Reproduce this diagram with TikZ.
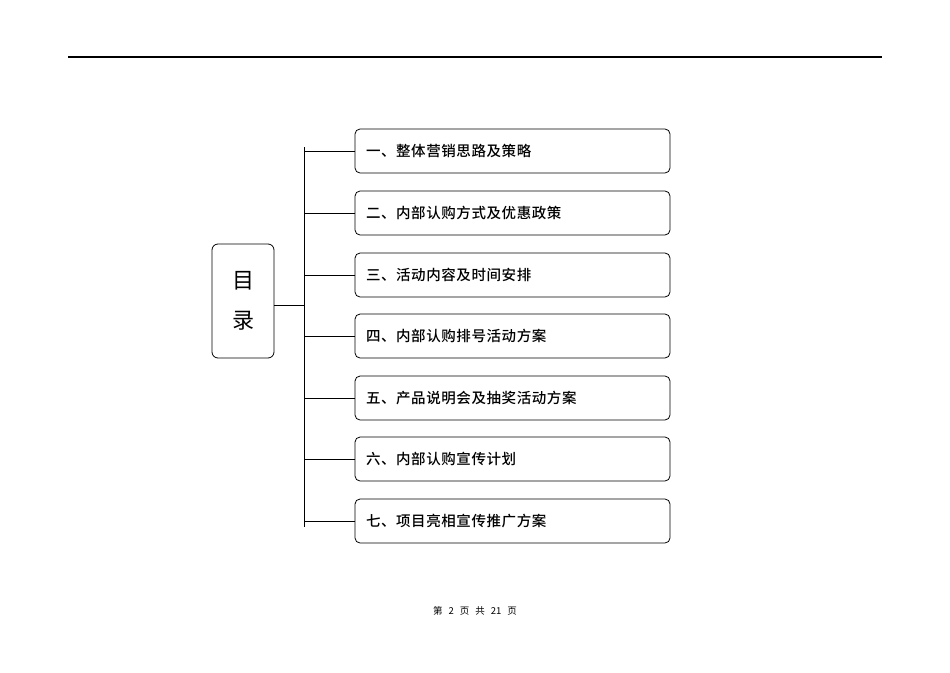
\documentclass[tikz,border=0pt]{standalone}
\usepackage{fontspec}
\newfontfamily\cjk{Noto Sans CJK SC}
\newfontfamily\cjkb[LetterSpace=4]{Noto Sans CJK SC Medium}
\tikzset{item/.style={draw,line width=0.8pt,rounded corners=5pt,minimum width=315pt,minimum height=44pt,
  text width=293pt,align=left,font=\cjkb\fontsize{14.5}{16}\selectfont},
  link/.style={line width=1pt}}
\begin{document}
\begin{tikzpicture}[x=1pt,y=-1pt]
\useasboundingbox (0,0) rectangle (950,672);
\draw[line width=1.2pt] (68,57) -- (882,57);
\node[draw,line width=0.8pt,rounded corners=6pt,minimum width=62pt,minimum height=114pt,
  font=\cjk\fontsize{22}{40}\selectfont,align=center] (ml) at (243,301) {目\\录};
\coordinate (top) at (304,147);
\coordinate (bot) at (304,527);
\coordinate (mid) at (304,305);
\node[item] (s1) at (512.5,151) {一、整体营销思路及策略};
\node[item] (s2) at (512.5,213) {二、内部认购方式及优惠政策};
\node[item] (s3) at (512.5,275) {三、活动内容及时间安排};
\node[item] (s4) at (512.5,336) {四、内部认购排号活动方案};
\node[item] (s5) at (512.5,398) {五、产品说明会及抽奖活动方案};
\node[item] (s6) at (512.5,459) {六、内部认购宣传计划};
\node[item] (s7) at (512.5,521) {七、项目亮相宣传推广方案};
\draw[link] (top) -- (bot);
\draw[link] (ml.east |- mid) -- (mid);
\foreach \i in {1,...,7}
  \draw[link] (s\i.west) -- (s\i.west -| top);
\node[font=\cjk\fontsize{9.5}{11}\selectfont] (pg) at (475,611) {第\hspace{6pt}2\hspace{6pt}页\hspace{6pt}共\hspace{6pt}21\hspace{6pt}页};
\end{tikzpicture}
\end{document}
